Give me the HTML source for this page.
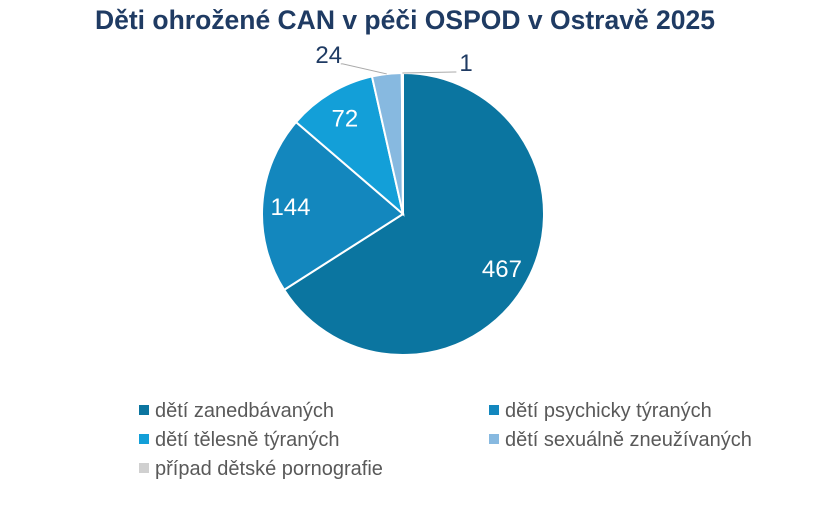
<!DOCTYPE html>
<html><head><meta charset="utf-8"><style>
body{margin:0;background:#fff;width:815px;height:501px;overflow:hidden;font-family:"Liberation Sans",sans-serif}
</style></head><body>
<svg id="c" width="815" height="501">
<text x="405" y="29" text-anchor="middle" font-size="26.5" font-weight="bold" fill="#1f3b63">Děti ohrožené CAN v péči OSPOD v Ostravě 2025</text>
</svg>
<script>
const categories=["dětí zanedbávaných","dětí psychicky týraných","dětí tělesně týraných","dětí sexuálně zneužívaných","případ dětské pornografie"];
const values=[467,144,72,24,1];
const colors=["#0b75a0","#1387be","#139fd8","#87b9e0","#d0d0d0"];
const NS="http://www.w3.org/2000/svg";
const svg=document.getElementById('c');
const cx=403,cy=214,r=141;
const total=values.reduce((a,b)=>a+b,0);
function pt(a,rr){return [cx+rr*Math.sin(a),cy-rr*Math.cos(a)];}
let acc=0;
values.forEach((v,i)=>{
  const a0=acc/total*2*Math.PI; acc+=v; const a1=acc/total*2*Math.PI;
  const p0=pt(a0,r),p1=pt(a1,r);
  const large=(a1-a0)>Math.PI?1:0;
  const p=document.createElementNS(NS,'path');
  p.setAttribute('d',`M${cx},${cy}L${p0[0]},${p0[1]}A${r},${r} 0 ${large} 1 ${p1[0]},${p1[1]}Z`);
  p.setAttribute('fill',colors[i]);p.setAttribute('stroke','#fff');p.setAttribute('stroke-width','2');
  
  
  svg.appendChild(p);
  const am=(a0+a1)/2;
  const t=document.createElementNS(NS,'text');
  t.textContent=values[i];
  t.setAttribute('font-size','24');
  if(v/total>0.05){
    const q=pt(am,r*0.8);
    t.setAttribute('x',q[0]);t.setAttribute('y',q[1]+9);t.setAttribute('text-anchor','middle');t.setAttribute('fill','#fff');
  } else {
    const s=pt(am,r);
    const side=Math.sin(am)<-0.02?-1:1;
    const ex=side<0?s[0]-44:s[0]+52, ey=side<0?s[1]-10:s[1]-1;
    const l=document.createElementNS(NS,'polyline');
    l.setAttribute('points',`${s[0]},${s[1]} ${ex},${ey} ${ex+(side<0?-2:2)},${ey}`);
    l.setAttribute('fill','none');l.setAttribute('stroke','#aaa');l.setAttribute('stroke-width','1');
    
    
    svg.appendChild(l);
    t.setAttribute('x',side<0?ex-14:ex+5);t.setAttribute('y',ey-1);
    t.setAttribute('text-anchor',side<0?'middle':'start');t.setAttribute('fill','#1f3b63');
  }
  
  
  svg.appendChild(t);
});
const lx=[139,489],ly=[410,439,468];
categories.forEach((c,i)=>{
  const x=lx[i%2],y=ly[Math.floor(i/2)];
  const g=document.createElementNS(NS,'g');
  
  
  const rc=document.createElementNS(NS,'rect');
  rc.setAttribute('x',x);rc.setAttribute('y',y-5);rc.setAttribute('width',10);rc.setAttribute('height',10);rc.setAttribute('fill',colors[i]);
  
  
  const t=document.createElementNS(NS,'text');
  t.setAttribute('x',x+16);t.setAttribute('y',y+7);t.setAttribute('font-size','20');t.setAttribute('fill','#595959');
  t.textContent=c;
  
  
  g.appendChild(rc);g.appendChild(t);svg.appendChild(g);
});
</script>
</body></html>
